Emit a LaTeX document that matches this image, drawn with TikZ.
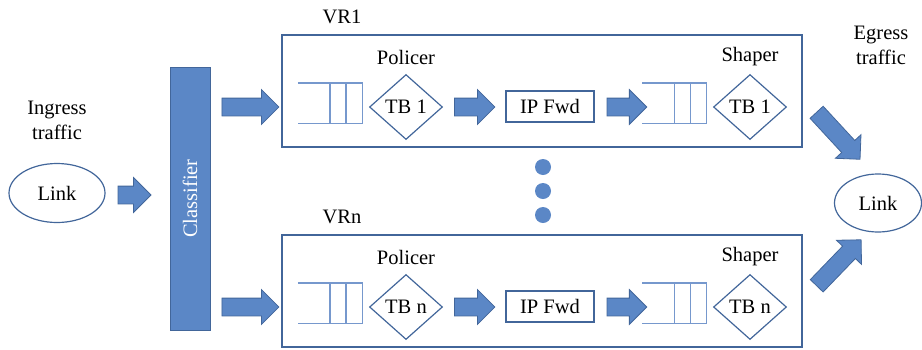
\documentclass[tikz,border=0pt]{standalone}
\usepackage{fontspec}
\setmainfont{Liberation Serif}
\usetikzlibrary{shapes.geometric,shapes.arrows,calc}

\definecolor{blockblue}{RGB}{91,135,198}
\definecolor{edgeblue}{RGB}{66,102,154}
\definecolor{queueblue}{RGB}{118,152,205}

\tikzset{
  every node/.style={font=\fontsize{20.5}{25}\selectfont},
  oval/.style={ellipse, draw=edgeblue, line width=1.2pt, minimum width=96pt, minimum height=59pt, inner sep=0pt},
  bar/.style={fill=blockblue, draw=edgeblue, line width=1pt, text=white, minimum width=40pt, minimum height=263pt, inner sep=0pt},
  vrbox/.style={draw=edgeblue, line width=1.2pt, minimum width=520pt, minimum height=112pt, inner sep=0pt},
  tb/.style={diamond, draw=edgeblue, line width=1.2pt, aspect=1.14, minimum width=73pt, minimum height=65pt, inner sep=1pt},
  fwdbox/.style={draw=edgeblue, line width=1.2pt, minimum width=88pt, minimum height=31pt, inner sep=0pt},
  slot/.style={minimum width=64pt, minimum height=40pt, inner sep=0pt},
  queue/.style={draw=queueblue, line width=1.4pt},
  dot/.style={circle, fill=blockblue, minimum size=16pt, inner sep=0pt},
  blockarrow/.style={single arrow, fill=blockblue, draw=edgeblue, line width=0.8pt, inner sep=8.5pt,
    single arrow head extend=8.5pt, single arrow head indent=0pt, single arrow tip angle=90},
  fat/.style={to path={let \p1=(\tikztostart), \p2=(\tikztotarget) in
    node[blockarrow, minimum height={veclen(\x2-\x1,\y2-\y1)}, rotate={atan2(\y2-\y1,\x2-\x1)}]
    at ($(\tikztostart)!0.5!(\tikztotarget)$) {}}}
}

\begin{document}
\begin{tikzpicture}[x=1pt, y=-1pt]
  \useasboundingbox (0,0) rectangle (922,349);
  % ingress side
  \node[align=center] (ingress) at (57,120) {Ingress\\traffic};
  \node[oval] (lnkin) at (57,193) {Link};
  \node[bar] (cls) at (190,198.5) {\rotatebox{90}{Classifier}};
  % VR1
  \node (vr1lbl) at (342,17) {VR1};
  \node[vrbox] (vr1) at (542,91) {};
  \node (pol1) at (406,57) {Policer};
  \node (shp1) at (750,57) {Shaper};
  \node[slot] (q1) at (330,103) {};
  \node[tb] (tb1) at (406,107) {TB 1};
  \node[fwdbox] (fwd1) at (550,106.5) {IP Fwd};
  \node[slot] (sq1) at (674.5,103) {};
  \node[tb] (sh1) at (750,107) {TB 1};
  % VRn
  \node (vrnlbl) at (342,217) {VRn};
  \node[vrbox] (vrn) at (542,291) {};
  \node (poln) at (406,257) {Policer};
  \node (shpn) at (750,257) {Shaper};
  \node[slot] (qn) at (330,303) {};
  \node[tb] (tbn) at (406,307) {TB n};
  \node[fwdbox] (fwdn) at (550,306.5) {IP Fwd};
  \node[slot] (sqn) at (674.5,303) {};
  \node[tb] (shn) at (750,307) {TB n};
  % dots between the routers
  \foreach \i/\y in {1/167,2/191,3/215}
    \node[dot] (dot\i) at (543,\y) {};
  % egress side
  \node[align=center] (egress) at (881,45) {Egress\\traffic};
  \node[oval, minimum width=87pt, minimum height=58pt] (lnkout) at (878,203) {Link};

  % queues
  \foreach \q in {q1,sq1,qn,sqn}{
    \draw[queue] (\q.north west) -- (\q.north east) -- (\q.south east) -- (\q.south west);
    \draw[queue] (\q.north) -- (\q.south)
      ($(\q.north)!0.5!(\q.north east)$) -- ($(\q.south)!0.5!(\q.south east)$);
  }

  % block arrows
  \path ($(lnkin.east)+(8,2)$) to[fat] ($(cls.west |- lnkin)+(-23,2)$);
  \path ($(cls.east |- tb1)+(7,0)$) to[fat] ($(vr1.west |- tb1)+(-7,0)$);
  \path ($(cls.east |- tbn)+(7,0)$) to[fat] ($(vrn.west |- tbn)+(-7,0)$);
  \path ($(tb1.east)+(7,0)$) to[fat] ($(fwd1.west |- tb1)+(-15,0)$);
  \path ($(tbn.east)+(7,0)$) to[fat] ($(fwdn.west |- tbn)+(-15,0)$);
  \path ($(fwd1.east |- tb1)+(8,0)$) to[fat] (sq1.west |- tb1);
  \path ($(fwdn.east |- tbn)+(8,0)$) to[fat] (sqn.west |- tbn);
  \path ($(vr1.east)+(11,18)$) to[fat] ($(lnkout)+(-21,-47)$);
  \path ($(vrn.east)+(11,-2)$) to[fat] ($(lnkout)+(-20,40)$);
\end{tikzpicture}
\end{document}
